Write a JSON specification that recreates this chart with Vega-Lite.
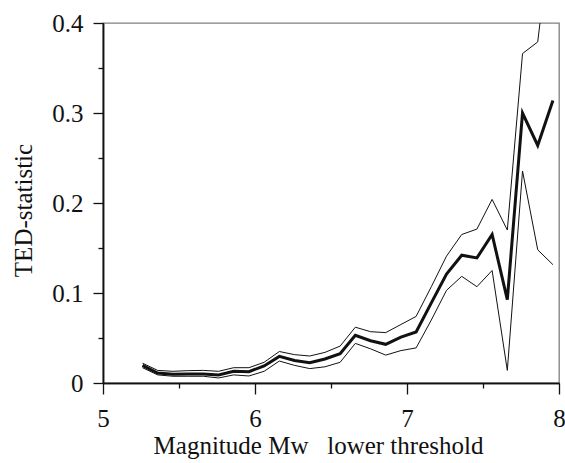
{
  "$schema": "https://vega.github.io/schema/vega-lite/v6.json",
  "width": 456,
  "height": 360,
  "autosize": {"type": "none"},
  "padding": {"left": 103, "top": 23, "right": 6, "bottom": 80},
  "background": "white",
  "config": {
    "view": {"stroke": "#808080", "strokeWidth": 1.3},
    "axis": {
      "domainColor": "#111111",
      "domainWidth": 1.5,
      "tickColor": "#111111",
      "tickWidth": 1.3,
      "grid": false,
      "labelFont": "Liberation Serif",
      "labelFontSize": 25,
      "labelColor": "#111111",
      "titleFont": "Liberation Serif",
      "titleFontSize": 25,
      "titleFontWeight": "normal",
      "titleColor": "#111111"
    }
  },
  "data": {
    "values": [
      {"m": 5.26, "lo": 0.017, "mid": 0.0195, "hi": 0.022},
      {"m": 5.36, "lo": 0.009, "mid": 0.011, "hi": 0.014},
      {"m": 5.46, "lo": 0.0075, "mid": 0.0096, "hi": 0.013},
      {"m": 5.56, "lo": 0.0075, "mid": 0.010, "hi": 0.0137},
      {"m": 5.66, "lo": 0.0075, "mid": 0.010, "hi": 0.014},
      {"m": 5.76, "lo": 0.0056, "mid": 0.009, "hi": 0.013},
      {"m": 5.86, "lo": 0.009, "mid": 0.013, "hi": 0.017},
      {"m": 5.96, "lo": 0.0078, "mid": 0.0126, "hi": 0.017},
      {"m": 6.06, "lo": 0.013, "mid": 0.019, "hi": 0.023},
      {"m": 6.16, "lo": 0.0244, "mid": 0.0296, "hi": 0.035},
      {"m": 6.26, "lo": 0.0196, "mid": 0.025, "hi": 0.0315},
      {"m": 6.36, "lo": 0.016, "mid": 0.0226, "hi": 0.030},
      {"m": 6.46, "lo": 0.018, "mid": 0.0267, "hi": 0.034},
      {"m": 6.56, "lo": 0.023, "mid": 0.0326, "hi": 0.041},
      {"m": 6.66, "lo": 0.044, "mid": 0.053, "hi": 0.062},
      {"m": 6.76, "lo": 0.038, "mid": 0.047, "hi": 0.057},
      {"m": 6.86, "lo": 0.031, "mid": 0.043, "hi": 0.056},
      {"m": 6.96, "lo": 0.036, "mid": 0.051, "hi": 0.065},
      {"m": 7.06, "lo": 0.039, "mid": 0.0567, "hi": 0.074},
      {"m": 7.16, "lo": 0.070, "mid": 0.089, "hi": 0.107},
      {"m": 7.26, "lo": 0.103, "mid": 0.121, "hi": 0.141},
      {"m": 7.36, "lo": 0.1185, "mid": 0.142, "hi": 0.165},
      {"m": 7.46, "lo": 0.107, "mid": 0.139, "hi": 0.171},
      {"m": 7.56, "lo": 0.125, "mid": 0.165, "hi": 0.204},
      {"m": 7.66, "lo": 0.014, "mid": 0.0926, "hi": 0.170},
      {"m": 7.76, "lo": 0.2356, "mid": 0.300, "hi": 0.366},
      {"m": 7.86, "lo": 0.148, "mid": 0.264, "hi": 0.379},
      {"m": 7.96, "lo": 0.1315, "mid": 0.314, "hi": 0.52}
    ]
  },
  "layer": [
    {
      "mark": {"type": "line", "clip": true, "color": "#111111", "strokeWidth": 1},
      "encoding": {
        "x": {
          "field": "m", "type": "quantitative",
          "scale": {"domain": [5, 8], "nice": false, "zero": false},
          "axis": {
            "orient": "bottom",
            "values": [5, 6, 7, 8],
            "format": "d",
            "tickSize": 11,
            "labelBaseline": "alphabetic",
            "labelPadding": 32,
            "labelFlush": false,
            "labelOverlap": false,
            "title": "Magnitude Mw\u00a0\u00a0 lower threshold",
            "titleX": 215,
            "titleY": 70,
            "titleBaseline": "alphabetic",
            "titleAnchor": null,
            "titleAlign": "center"
          }
        },
        "y": {
          "field": "lo", "type": "quantitative",
          "scale": {"domain": [0, 0.4], "nice": false},
          "axis": {
            "orient": "left",
            "values": [0, 0.1, 0.2, 0.3, 0.4],
            "format": "~g",
            "tickSize": 10,
            "labelPadding": 10,
            "labelBaseline": "middle",
            "labelFlush": false,
            "labelOverlap": false,
            "title": "TED-statistic",
            "titleX": -72,
            "titleY": 187,
            "titleAngle": 270,
            "titleBaseline": "alphabetic",
            "titleAlign": "center",
            "titleAnchor": null
          }
        }
      }
    },
    {
      "mark": {"type": "line", "clip": true, "color": "#111111", "strokeWidth": 1},
      "encoding": {
        "x": {
          "field": "m", "type": "quantitative",
          "scale": {"domain": [5, 8], "nice": false, "zero": false},
          "axis": {
            "orient": "bottom",
            "values": [5.5, 6.5, 7.5],
            "tickSize": 5,
            "labels": false,
            "title": null
          }
        },
        "y": {
          "field": "hi", "type": "quantitative",
          "scale": {"domain": [0, 0.4], "nice": false},
          "axis": {
            "orient": "left",
            "values": [0.05, 0.15, 0.25, 0.35],
            "tickSize": 5,
            "labels": false,
            "title": null
          }
        }
      }
    },
    {
      "mark": {"type": "line", "clip": true, "color": "#111111", "strokeWidth": 3},
      "encoding": {
        "x": {"field": "m", "type": "quantitative", "scale": {"domain": [5, 8], "nice": false, "zero": false}, "axis": null},
        "y": {"field": "mid", "type": "quantitative", "scale": {"domain": [0, 0.4], "nice": false}, "axis": null}
      }
    }
  ],
  "resolve": {"axis": {"x": "independent", "y": "independent"}}
}
